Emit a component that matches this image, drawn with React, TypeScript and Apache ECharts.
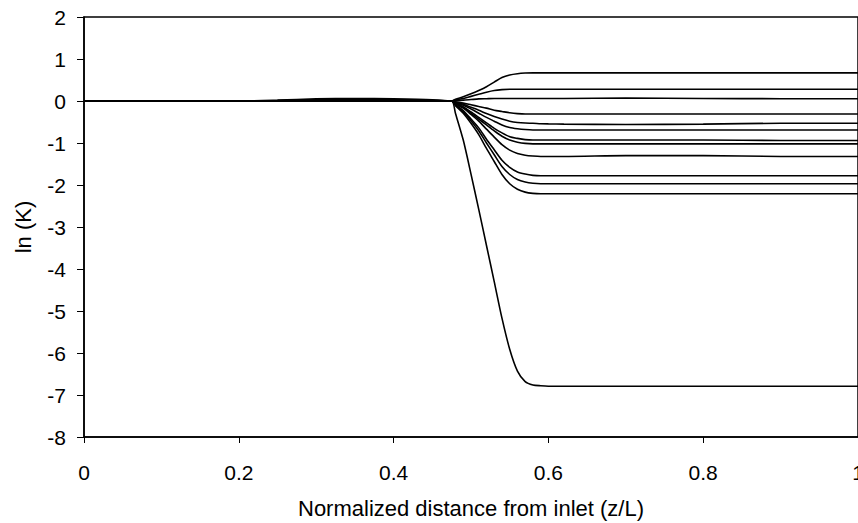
import React, { useEffect, useRef } from "react";
import * as echarts from "echarts";

// Normalized distance from inlet (z/L)
const X = [0, 0.2, 0.25, 0.3, 0.35, 0.4, 0.45, 0.475, 0.48, 0.49, 0.5, 0.51, 0.52, 0.53, 0.54, 0.55, 0.56, 0.57, 0.58, 0.59, 0.6, 0.62, 0.7, 0.8, 0.9, 1.0];

// ln(K) curves
const L1 = [0, 0, 0.02, 0.05, 0.06, 0.05, 0.03, 0, 0.04, 0.10, 0.17, 0.25, 0.34, 0.45, 0.56, 0.62, 0.65, 0.665, 0.67, 0.67, 0.67, 0.67, 0.67, 0.67, 0.67, 0.67];
const L2 = [0, 0, 0.01, 0.03, 0.04, 0.03, 0.02, 0, 0.025, 0.06, 0.11, 0.16, 0.21, 0.25, 0.27, 0.28, 0.28, 0.28, 0.28, 0.28, 0.28, 0.28, 0.28, 0.28, 0.28, 0.28];
const L3 = [0, 0, 0, 0, 0, 0, 0, 0, 0.01, 0.02, 0.035, 0.05, 0.055, 0.06, 0.06, 0.06, 0.06, 0.06, 0.06, 0.06, 0.06, 0.06, 0.07, 0.06, 0.055, 0.055];
const L4 = [0, 0, 0, 0, 0, 0, 0, 0, -0.02, -0.05, -0.09, -0.13, -0.17, -0.22, -0.25, -0.28, -0.30, -0.31, -0.31, -0.31, -0.31, -0.31, -0.31, -0.31, -0.31, -0.31];
const L5 = [0, 0, 0, 0, 0, 0, 0, 0, -0.03, -0.08, -0.15, -0.22, -0.30, -0.37, -0.43, -0.48, -0.51, -0.525, -0.53, -0.54, -0.545, -0.55, -0.56, -0.55, -0.53, -0.53];
const L6 = [0, 0, 0, 0, 0, 0, 0, 0, -0.04, -0.10, -0.19, -0.29, -0.39, -0.48, -0.57, -0.63, -0.66, -0.68, -0.69, -0.69, -0.69, -0.69, -0.69, -0.69, -0.69, -0.69];
const L7 = [0, 0, 0, 0, 0, 0, 0, 0, -0.05, -0.14, -0.26, -0.39, -0.52, -0.65, -0.76, -0.85, -0.89, -0.92, -0.93, -0.93, -0.93, -0.93, -0.93, -0.93, -0.94, -0.94];
const L8 = [0, 0, 0, 0, 0, 0, 0, 0, -0.06, -0.15, -0.29, -0.43, -0.57, -0.71, -0.84, -0.93, -0.98, -1.01, -1.02, -1.02, -1.02, -1.02, -1.02, -1.02, -1.02, -1.02];
const L9 = [0, 0, 0, 0, 0, 0, 0, 0, -0.07, -0.17, -0.32, -0.48, -0.67, -0.86, -1.04, -1.17, -1.25, -1.29, -1.31, -1.32, -1.32, -1.32, -1.30, -1.30, -1.32, -1.32];
const L10 = [0, 0, 0, 0, 0, 0, 0, 0, -0.09, -0.23, -0.43, -0.64, -0.91, -1.16, -1.41, -1.58, -1.69, -1.74, -1.77, -1.78, -1.78, -1.78, -1.78, -1.78, -1.78, -1.78];
const L11 = [0, 0, 0, 0, 0, 0, 0, 0, -0.10, -0.26, -0.47, -0.71, -1.00, -1.28, -1.56, -1.75, -1.87, -1.93, -1.96, -1.97, -1.97, -1.97, -1.97, -1.97, -1.97, -1.97];
const L12 = [0, 0, 0, 0, 0, 0, 0, 0, -0.11, -0.29, -0.53, -0.80, -1.13, -1.44, -1.75, -1.97, -2.10, -2.17, -2.20, -2.21, -2.21, -2.21, -2.21, -2.21, -2.21, -2.21];
const L13 = [0, 0, 0, 0, 0, 0, 0, 0, -0.30, -0.93, -1.74, -2.58, -3.44, -4.30, -5.17, -5.91, -6.43, -6.68, -6.76, -6.78, -6.79, -6.79, -6.79, -6.79, -6.79, -6.79];

const CURVES = [L1, L2, L3, L4, L5, L6, L7, L8, L9, L10, L11, L12, L13];

const X_TITLE = "Normalized distance from inlet (z/L)";
const Y_TITLE = "ln (K)";

export default function App() {
  const ref = useRef<HTMLDivElement>(null);
  useEffect(() => {
    if (!ref.current) return;
    const chart = echarts.init(ref.current, null, { renderer: "svg" });
    const font = "'Liberation Sans', Arial, sans-serif";
    chart.setOption({
      animation: false,
      backgroundColor: "#fff",
      grid: {
        left: 84,
        right: 0,
        top: 17,
        bottom: 86,
        show: true,
        borderColor: "#000",
        borderWidth: 1.5,
        backgroundColor: "transparent",
        containLabel: false,
        outerBoundsMode: "none",
      },
      xAxis: {
        type: "value",
        min: 0,
        max: 1,
        interval: 0.2,
        name: X_TITLE,
        nameLocation: "middle",
        nameGap: 60,
        nameTextStyle: { fontFamily: font, fontSize: 22, color: "#000" },
        axisLine: { show: true, onZero: false, lineStyle: { color: "#000", width: 1.5 } },
        axisTick: { show: true, length: 6, lineStyle: { color: "#000", width: 1 } },
        axisLabel: { fontFamily: font, fontSize: 21, color: "#000", margin: 25, hideOverlap: false },
        splitLine: { show: false },
      },
      yAxis: {
        type: "value",
        min: -8,
        max: 2,
        interval: 1,
        name: Y_TITLE,
        nameLocation: "middle",
        nameGap: 50,
        nameTextStyle: { fontFamily: font, fontSize: 22, color: "#000" },
        axisLine: { show: true, onZero: false, lineStyle: { color: "#000", width: 1.5 } },
        axisTick: { show: true, length: 7, lineStyle: { color: "#000", width: 1 } },
        axisLabel: { fontFamily: font, fontSize: 21, color: "#000", margin: 18 },
        splitLine: { show: false },
      },
      series: CURVES.map((ys, i) => ({
        name: "K" + (i + 1),
        type: "line",
        data: X.map((x, j) => [x, ys[j]]),
        showSymbol: false,
        smooth: 0.25,
        lineStyle: { color: "#000", width: 1.6 },
        clip: true,
      })),
    });
    return () => chart.dispose();
  }, []);
  return (
    <div
      ref={ref}
      style={{ position: "absolute", left: 0, top: 0, width: 858, height: 523, background: "#fff" }}
    />
  );
}
